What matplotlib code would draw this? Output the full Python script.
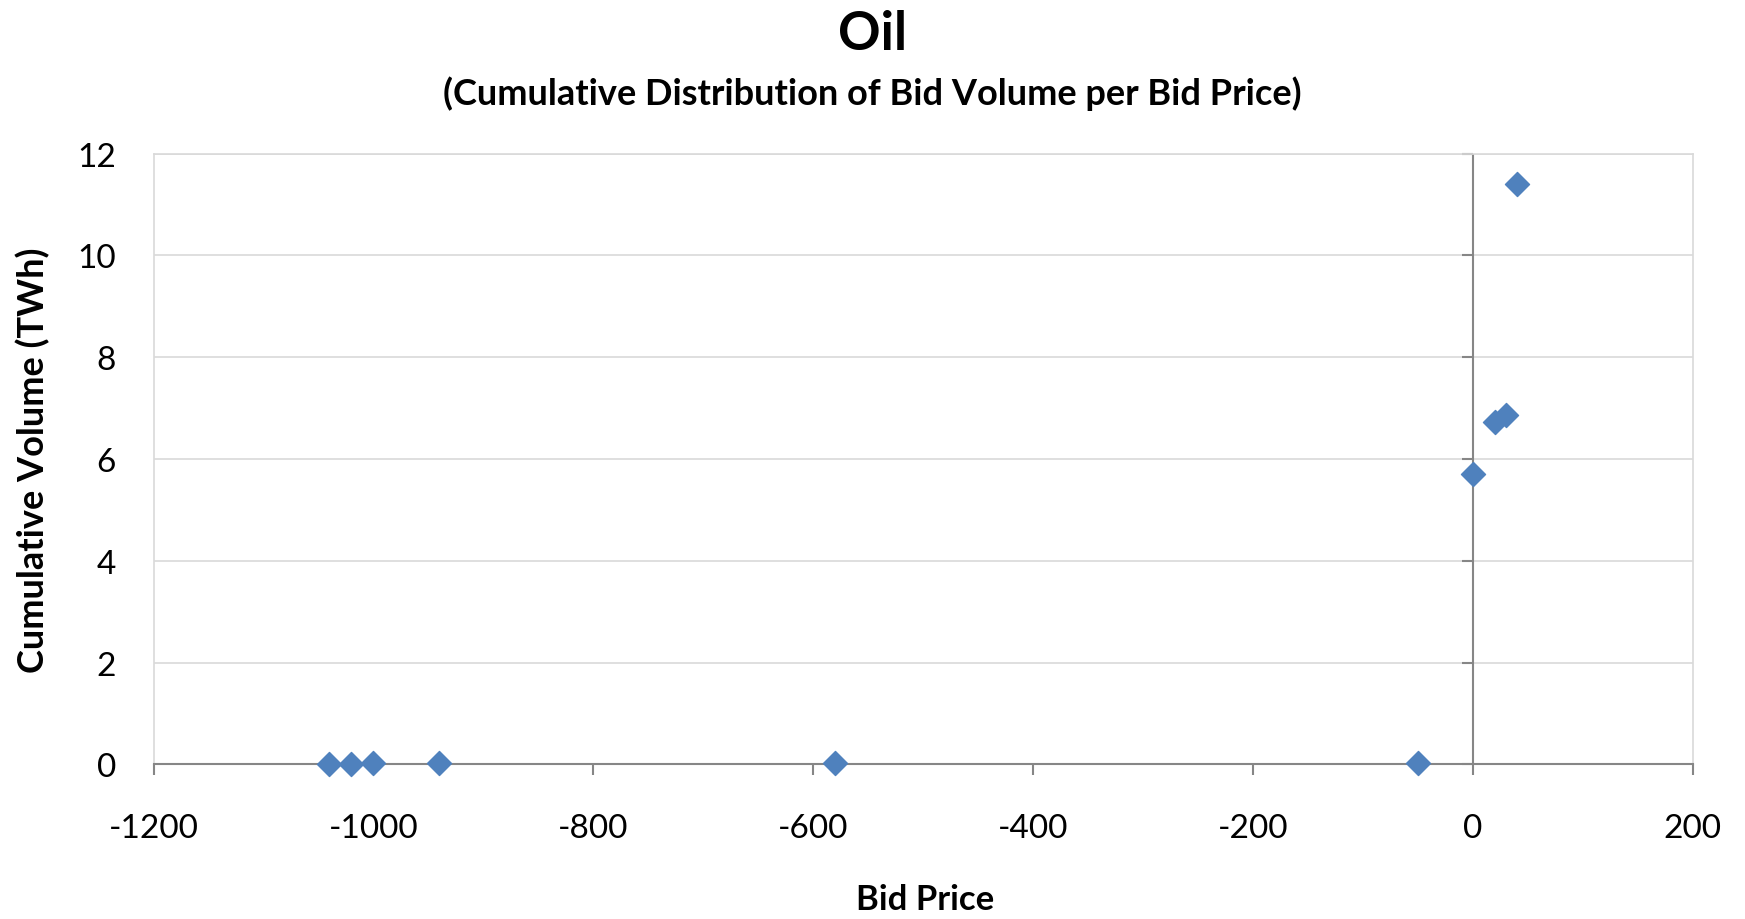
import matplotlib
matplotlib.use("Agg")
import matplotlib.pyplot as plt
import numpy as np

plt.rcParams['font.family'] = ['Lato', 'DejaVu Sans']
plt.rcParams['axes.unicode_minus'] = False

# bud hinnad ja kumulatiivne maht
hind = [-1040, -1020, -1000, -940, -580, -50, 0, 20, 30, 40]
maht = [0.01, 0.01, 0.02, 0.02, 0.03, 0.03, 5.7, 6.72, 6.86, 11.4]

xticks = [-1200, -1000, -800, -600, -400, -200, 0, 200]
yticks = [0, 2, 4, 6, 8, 10, 12]

fig = plt.figure(figsize=(17.45, 9.2), dpi=100)
ax = fig.add_axes([0.088, 0.168, 0.882, 0.664])

ax.set_xlim(-1200, 200)
ax.set_ylim(0, 12)
ax.set_xticks(xticks)
ax.set_yticks(yticks)

# ruudustik ja raam
ax.grid(axis='y', color='#d9d9d9', linewidth=1.2)
ax.set_axisbelow(True)
for s in ['top', 'left', 'right']:
    ax.spines[s].set_color('#d9d9d9')
    ax.spines[s].set_linewidth(1.2)
ax.spines['bottom'].set_color('#868686')
ax.spines['bottom'].set_linewidth(1.5)

ax.axvline(0, color='#868686', linewidth=1.5, zorder=2)
ax.plot(np.zeros(len(yticks)), yticks, linestyle='none', marker=0,
        markersize=8, color='#868686', markeredgewidth=1.5, clip_on=False, zorder=2)

ax.tick_params(axis='x', direction='out', length=8, width=1.5, color='#868686',
               labelsize=24, pad=27)
ax.tick_params(axis='y', length=0, labelsize=24, pad=27)

ax.scatter(hind, maht, marker='D', s=150, color='#4f81bd', zorder=3, clip_on=False)

fig.text(0.5, 0.962, 'Oil', ha='center', va='center', fontsize=38, fontweight='bold')
fig.text(0.5, 0.898, '(Cumulative Distribution of Bid Volume per Bid Price)',
         ha='center', va='center', fontsize=26, fontweight='bold')
fig.text(0.53, 0.022, 'Bid Price', ha='center', va='center', fontsize=25, fontweight='bold')
fig.text(0.019, 0.5, 'Cumulative Volume (TWh)', ha='center', va='center',
         rotation=90, fontsize=26, fontweight='bold')

fig.savefig('out.png', dpi=100)
